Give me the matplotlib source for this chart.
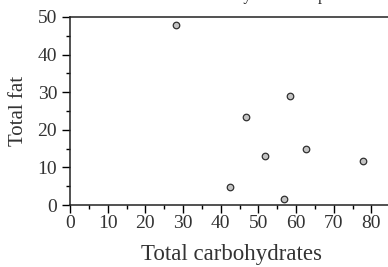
import matplotlib.pyplot as plt
from matplotlib.ticker import MultipleLocator

# values
carbs = [28.1, 42.4, 46.7, 51.7, 56.8, 58.4, 62.6, 77.7]
fat = [47.8, 4.9, 23.3, 12.9, 1.5, 29.1, 15.0, 11.6]
x_label = "Total carbohydrates"
y_label = "Total fat"
title = "Fat and carbs by menu sample"

plt.rcParams['font.family'] = ['Liberation Serif', 'DejaVu Serif']

fig = plt.figure(figsize=(3.88, 2.67), dpi=100)
ax = fig.add_axes([70/388, 62/267, 339/388, 188/267])

ax.scatter(carbs, fat, s=22, facecolor='#c4c4c4', edgecolor='#303030', linewidth=0.9, zorder=3)

ax.set_xlim(0, 90)
ax.set_ylim(0, 50)
ax.xaxis.set_major_locator(MultipleLocator(10))
ax.xaxis.set_minor_locator(MultipleLocator(5))
ax.yaxis.set_major_locator(MultipleLocator(10))
ax.yaxis.set_minor_locator(MultipleLocator(5))
ax.tick_params(which='major', direction='out', length=5.8, width=1.0, labelsize=14, labelcolor='#333333')
ax.tick_params(axis='x', which='major', pad=1.5)
ax.tick_params(axis='y', which='major', pad=3.5)
ax.tick_params(which='minor', direction='out', length=2.9, width=1.0)

for s in ax.spines.values():
    s.set_linewidth(1.1)
    s.set_color('#222222')

ax.set_xlabel(x_label, fontsize=16.5, color='#333333')
ax.xaxis.set_label_coords(0.476, -0.205)
ax.set_ylabel(y_label, fontsize=15, color='#333333', labelpad=7)
# title sits almost fully above the top edge, only descenders show
fig.text(149/388, 1 - 3.5/267, title, fontsize=11.2, ha='left', va='bottom', color='#222222')

fig.savefig('out.png', dpi=100)
